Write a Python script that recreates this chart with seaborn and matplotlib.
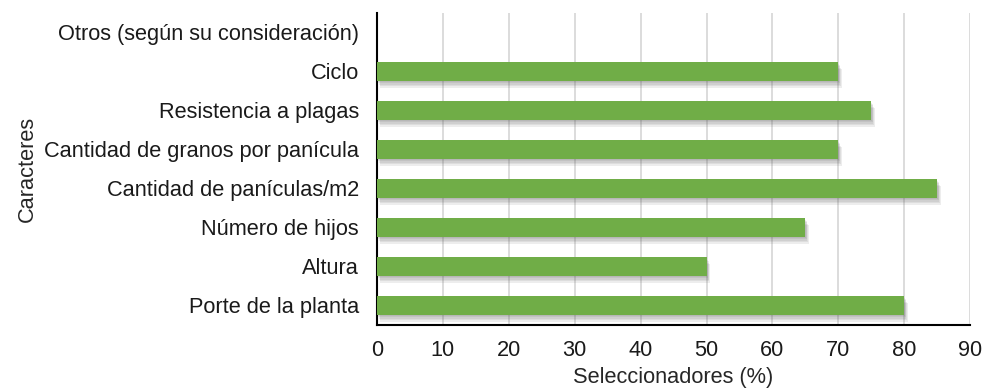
import matplotlib
matplotlib.use("Agg")
import matplotlib.pyplot as plt
import matplotlib.patheffects as pe
import seaborn as sns
import pandas as pd

categorias = [
    "Otros (según su consideración)",
    "Ciclo",
    "Resistencia a plagas",
    "Cantidad de granos por panícula",
    "Cantidad de panículas/m2",
    "Número de hijos",
    "Altura",
    "Porte de la planta",
]
porcentajes = [0, 70, 75, 70, 85, 65, 50, 80]
x_ticks = [0, 10, 20, 30, 40, 50, 60, 70, 80, 90]

df = pd.DataFrame({"Caracteres": categorias, "Seleccionadores (%)": porcentajes})

sns.set_theme(style="white")
plt.rcParams["font.family"] = ["Liberation Sans", "DejaVu Sans"]

fig = plt.figure(figsize=(9.84, 3.92), dpi=100)
ax = fig.add_axes([0.383, 0.171, 0.603, 0.796])

sns.barplot(data=df, x="Seleccionadores (%)", y="Caracteres", orient="h",
            color="#70AD47", saturation=1, width=0.47, linewidth=0,
            edgecolor="none", ax=ax, zorder=3)

# soft drop shadow built from several faint offset copies
shadow = [
    pe.SimplePatchShadow(offset=(o[0], o[1]), shadow_rgbFace="#606060", alpha=0.11)
    for o in [(0.5, -1), (1, -2), (1.5, -3), (2, -4), (2.5, -5)]
]
for p in ax.patches:
    p.set_path_effects(shadow + [pe.Normal()])

ax.set_xlim(0, 90)
ax.set_xticks(x_ticks)
ax.set_xticklabels([str(t) for t in x_ticks])
ax.set_ylim(7.5, -0.5)
ax.grid(axis="x", color="#d9d9d9", linewidth=1.3, zorder=0)
ax.grid(axis="y", visible=False)
ax.set_axisbelow(True)

for s in ["top", "right"]:
    ax.spines[s].set_visible(False)
for s in ["left", "bottom"]:
    ax.spines[s].set_color("black")
    ax.spines[s].set_linewidth(1.5)

fs = 15.7
ax.tick_params(axis="both", length=0, labelsize=fs, colors="#1a1a1a")
ax.tick_params(axis="y", pad=13)
ax.tick_params(axis="x", pad=11)
ax.set_xlabel("Seleccionadores (%)", fontsize=fs, color="#262626", labelpad=4)
ax.set_ylabel("Caracteres", fontsize=fs, color="#262626", labelpad=4)

fig.savefig("out.png", dpi=100)
